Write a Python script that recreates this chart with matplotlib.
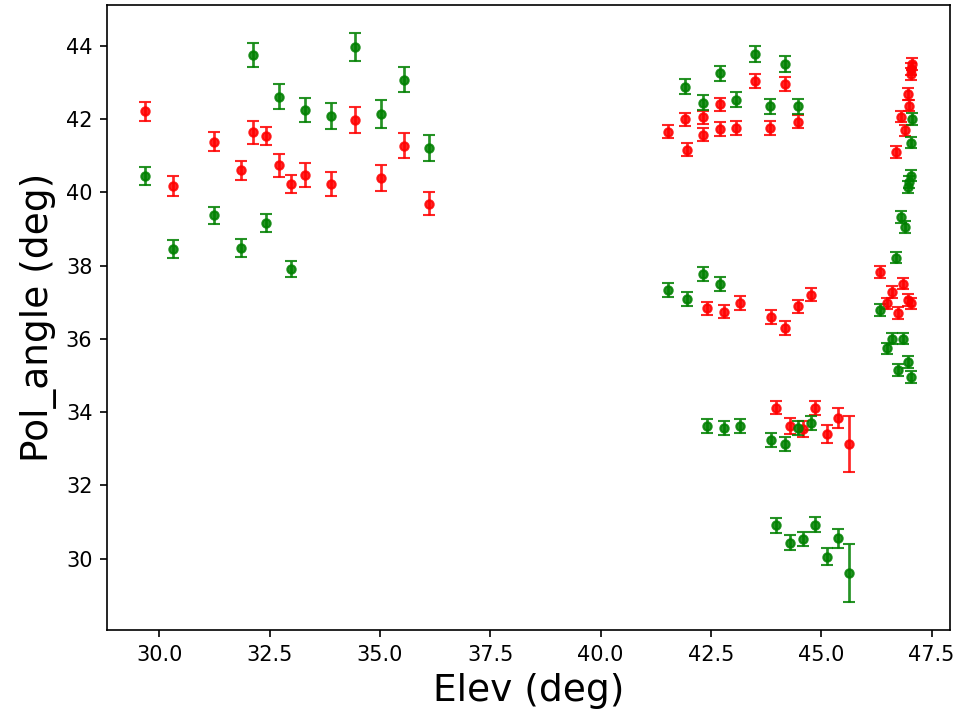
import numpy as np
import matplotlib
matplotlib.use("Agg")
import matplotlib.pyplot as plt

# elevation of each measurement (deg), shared by both series
elev = [29.68, 30.30, 31.23, 31.84, 32.12, 32.42, 32.72, 32.99, 33.31, 33.88, 34.44, 35.02, 35.55, 36.11,
        41.92, 42.32, 42.71, 43.07, 43.51, 43.84, 44.17, 44.48,
        41.53, 41.95, 42.32, 42.71,
        42.41, 42.80, 43.17, 43.86, 44.18, 44.48, 44.76,
        43.98, 44.30, 44.58, 44.86, 45.14, 45.39, 45.63,
        46.33, 46.48, 46.61, 46.74, 46.85, 46.97, 47.03,
        46.70, 46.80, 46.89, 46.96, 47.00, 47.03, 47.04, 47.05]

# red series
red_angle = [42.21, 40.18, 41.38, 40.60, 41.64, 41.54, 40.74, 40.22, 40.48, 40.22, 41.98, 40.39, 41.28, 39.69,
             42.00, 42.05, 42.40, 41.76, 43.04, 41.76, 42.95, 41.93,
             41.66, 41.17, 41.58, 41.73,
             36.84, 36.74, 36.98, 36.60, 36.30, 36.89, 37.21,
             34.12, 33.62, 33.53, 34.11, 33.40, 33.85, 33.13,
             37.83, 36.97, 37.28, 36.70, 37.51, 37.06, 36.97,
             41.10, 42.07, 41.69, 42.69, 42.37, 43.24, 43.37, 43.51]
red_err = [0.25, 0.27, 0.26, 0.25, 0.31, 0.25, 0.31, 0.25, 0.32, 0.33, 0.36, 0.35, 0.34, 0.32,
           0.18, 0.18, 0.18, 0.18, 0.19, 0.18, 0.19, 0.18,
           0.18, 0.18, 0.18, 0.18,
           0.18, 0.18, 0.18, 0.18, 0.18, 0.18, 0.18,
           0.18, 0.22, 0.22, 0.20, 0.25, 0.27, 0.76,
           0.16, 0.16, 0.16, 0.16, 0.16, 0.16, 0.16,
           0.16, 0.16, 0.16, 0.16, 0.16, 0.16, 0.16, 0.16]

# green series
green_angle = [40.44, 38.45, 39.37, 38.49, 43.75, 39.17, 42.61, 37.91, 42.26, 42.09, 43.96, 42.14, 43.08, 41.22,
               42.89, 42.45, 43.25, 42.53, 43.78, 42.35, 43.51, 42.35,
               37.33, 37.10, 37.78, 37.49,
               33.62, 33.58, 33.62, 33.24, 33.13, 33.56, 33.71,
               30.91, 30.44, 30.54, 30.93, 30.06, 30.56, 29.61,
               36.79, 35.74, 36.01, 35.15, 36.01, 35.38, 34.97,
               38.22, 39.33, 39.06, 40.15, 40.28, 40.46, 41.36, 42.01]
green_err = [0.24, 0.24, 0.24, 0.24, 0.34, 0.24, 0.34, 0.23, 0.33, 0.35, 0.38, 0.38, 0.35, 0.35,
             0.20, 0.20, 0.20, 0.20, 0.21, 0.20, 0.21, 0.20,
             0.19, 0.19, 0.19, 0.19,
             0.19, 0.19, 0.19, 0.19, 0.19, 0.19, 0.19,
             0.20, 0.20, 0.20, 0.20, 0.24, 0.26, 0.78,
             0.16, 0.16, 0.16, 0.16, 0.16, 0.16, 0.16,
             0.16, 0.16, 0.16, 0.16, 0.16, 0.16, 0.16, 0.16]

fig = plt.figure(figsize=(959 / 150, 717 / 150), dpi=150)
ax = fig.add_axes([107 / 959, 1 - 630 / 717, (950 - 107) / 959, (630 - 5) / 717])

ax.errorbar(elev, red_angle, yerr=red_err, fmt='o', color='red', markersize=4,
            capsize=3, elinewidth=1.3, alpha=0.85)
ax.errorbar(elev, green_angle, yerr=green_err, fmt='o', color='green', markersize=4,
            capsize=3, elinewidth=1.3, alpha=0.85)

ax.set_xlabel('Elev (deg)', fontsize=18)
ax.set_ylabel('Pol_angle (deg)', fontsize=18)

fig.savefig('out.png', dpi=150)
